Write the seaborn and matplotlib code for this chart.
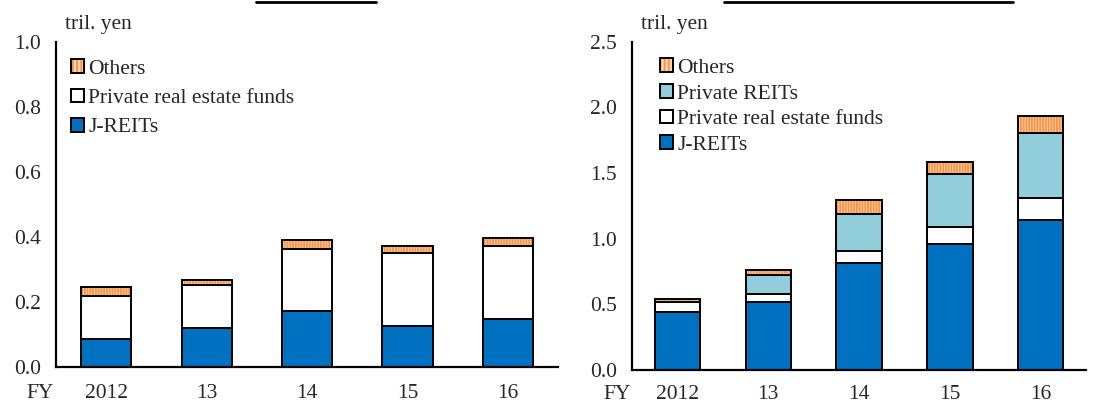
import numpy as np
import seaborn as sns
import matplotlib.pyplot as plt
from matplotlib.patches import Patch
from matplotlib.lines import Line2D
from matplotlib.ticker import FormatStrFormatter, FixedLocator

years = ['2012', '13', '14', '15', '16']

# left panel (tril. yen)
left_jreit = [0.085, 0.119, 0.171, 0.127, 0.149]
left_funds = [0.134, 0.133, 0.191, 0.222, 0.222]
left_others = [0.028, 0.015, 0.028, 0.023, 0.026]

# right panel (tril. yen)
right_jreit = [0.444, 0.520, 0.817, 0.959, 1.142]
right_funds = [0.073, 0.059, 0.089, 0.132, 0.170]
right_private = [0.0, 0.147, 0.284, 0.401, 0.495]
right_others = [0.020, 0.035, 0.104, 0.094, 0.124]

BLUE = '#0070C0'
LIGHTBLUE = '#92CDDC'
PEACH = '#FCD5B4'
ORANGE = '#F79646'
FS = 15.5

sns.set_style('white')
plt.rcParams['font.family'] = ['Liberation Serif', 'DejaVu Serif']
plt.rcParams['font.size'] = FS
plt.rcParams['hatch.linewidth'] = 1.4

fig = plt.figure(figsize=(11.06, 4.05), dpi=100)
axl = fig.add_axes([56 / 1106, 1 - 367 / 405, 502 / 1106, 325.3 / 405])
axr = fig.add_axes([632 / 1106, 1 - 370 / 405, 454 / 1106, 328.3 / 405])


def layer(ax, vals, bottom, color):
    sns.barplot(x=years, y=vals, bottom=bottom, color=color, saturation=1,
                width=0.5, edgecolor='black', linewidth=1.4, errorbar=None, ax=ax)


def hatched_layer(ax, vals, bottom):
    sns.barplot(x=years, y=vals, bottom=bottom, color=PEACH, saturation=1,
                width=0.5, edgecolor=ORANGE, hatch='||||||', linewidth=0,
                errorbar=None, ax=ax)
    sns.barplot(x=years, y=vals, bottom=bottom, color='black', fill=False,
                width=0.5, linewidth=1.4, errorbar=None, ax=ax)


# left stack
b = np.zeros(len(years))
layer(axl, left_jreit, b, BLUE)
b = b + np.array(left_jreit)
layer(axl, left_funds, b, 'white')
b = b + np.array(left_funds)
hatched_layer(axl, left_others, b)

# right stack
b = np.zeros(len(years))
layer(axr, right_jreit, b, BLUE)
b = b + np.array(right_jreit)
layer(axr, right_funds, b, 'white')
b = b + np.array(right_funds)
layer(axr, right_private, b, LIGHTBLUE)
b = b + np.array(right_private)
hatched_layer(axr, right_others, b)


def style_axis(ax, ymax, ystep, label_pad):
    ax.set_xlim(-0.5, 4.5)
    ax.set_ylim(0, ymax)
    ax.set_yticks(np.arange(0, ymax + 1e-9, ystep))
    ax.yaxis.set_major_formatter(FormatStrFormatter('%.1f'))
    ax.set_xlabel('')
    ax.set_ylabel('')
    for s in ['top', 'right']:
        ax.spines[s].set_visible(False)
    for s in ['left', 'bottom']:
        ax.spines[s].set_color('black')
        ax.spines[s].set_linewidth(1.6)
    ax.xaxis.set_major_locator(FixedLocator([-0.5, 1.5, 3.5]))
    ax.xaxis.set_major_formatter(plt.NullFormatter())
    ax.xaxis.set_minor_locator(FixedLocator(range(len(years))))
    ax.set_xticklabels(years, minor=True)
    ax.tick_params(axis='x', which='major', direction='out', length=5, width=1.5, color='black')
    ax.tick_params(axis='x', which='minor', length=0, pad=label_pad, labelsize=FS)
    ax.tick_params(axis='y', direction='out', length=5, width=1.5, color='black',
                   pad=6, labelsize=FS)
    ax.annotate('FY', xy=(-0.66, 0), xycoords=('data', 'axes fraction'),
                xytext=(0, -label_pad), textcoords='offset points',
                ha='center', va='top', fontsize=FS, annotation_clip=False)


style_axis(axl, 1.0, 0.2, 12.5)
style_axis(axr, 2.5, 0.5, 11)

fig.text(65 / 1106, 1 - 25 / 405, 'tril. yen', ha='left', va='center', fontsize=FS)
fig.text(641 / 1106, 1 - 25 / 405, 'tril. yen', ha='left', va='center', fontsize=FS)

# underlines of the panel titles (title text lies above the crop)
fig.add_artist(Line2D([256 / 1106, 376 / 1106], [1 - 2 / 405] * 2, color='black', lw=2))
fig.add_artist(Line2D([724 / 1106, 1013 / 1106], [1 - 2 / 405] * 2, color='black', lw=2))

others_h = (Patch(facecolor=PEACH, edgecolor=ORANGE, hatch='||||', linewidth=0),
            Patch(facecolor='none', edgecolor='black', linewidth=1.4))
funds_h = Patch(facecolor='white', edgecolor='black', linewidth=1.4)
jreit_h = Patch(facecolor=BLUE, edgecolor='black', linewidth=1.4)
private_h = Patch(facecolor=LIGHTBLUE, edgecolor='black', linewidth=1.4)

leg_kw = dict(loc='upper left', frameon=False, handlelength=0.6, handleheight=0.6,
              handletextpad=0.2, borderaxespad=0, borderpad=0, fontsize=FS)
axl.legend([others_h, funds_h, jreit_h],
           ['Others', 'Private real estate funds', 'J-REITs'],
           bbox_to_anchor=(0.030, 0.946), labelspacing=0.46, **leg_kw)
axr.legend([others_h, private_h, funds_h, jreit_h],
           ['Others', 'Private REITs', 'Private real estate funds', 'J-REITs'],
           bbox_to_anchor=(0.062, 0.949), labelspacing=0.29, **leg_kw)

fig.savefig('out.png', dpi=100)
